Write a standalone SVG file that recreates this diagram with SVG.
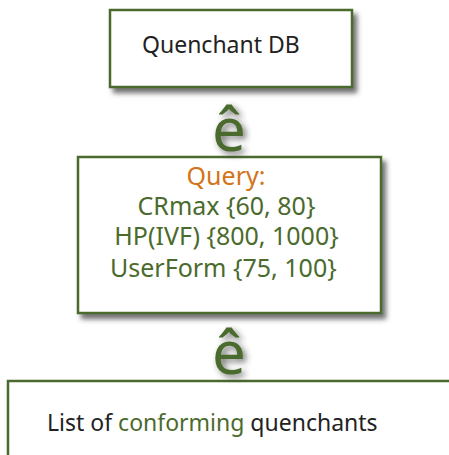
<svg xmlns="http://www.w3.org/2000/svg" width="449" height="455" viewBox="0 0 449 455">
<defs>
<filter id="sh" x="-10%" y="-10%" width="130%" height="140%">
<feDropShadow dx="4" dy="5" stdDeviation="2.5" flood-color="#444" flood-opacity="0.75"/>
</filter>
<filter id="tsh" x="-30%" y="-30%" width="160%" height="160%">
<feDropShadow dx="3" dy="3" stdDeviation="3" flood-color="#333" flood-opacity="0.7"/>
</filter>
</defs>
<style>
.box{fill:#fff;stroke:#4b6a2d;stroke-width:2.5}
.t{font-family:"Noto Sans",sans-serif;font-size:23px}
.q{font-family:"Noto Sans",sans-serif;font-size:25px}
.dark{fill:#222}
.green{fill:#4b6a2d}
.orange{fill:#d4741a}
.arrow{font-family:"Noto Sans",sans-serif;font-size:60px;fill:#4b6a2d}
</style>
<rect width="449" height="455" fill="#fff"/>
<g id="node-db">
<rect class="box" x="110" y="10" width="242" height="77" filter="url(#sh)"/>
<text class="t dark" x="142" y="53">Quenchant DB</text>
</g>
<g id="node-query">
<rect class="box" x="78" y="157" width="303" height="156" filter="url(#sh)"/>
<text class="q orange" x="226" y="185" text-anchor="middle">Query:</text>
<text class="q green" x="226.5" y="215" text-anchor="middle">CRmax {60, 80}</text>
<text class="q green" x="226.5" y="245" text-anchor="middle">HP(IVF) {800, 1000}</text>
<text class="q green" x="110" y="277">UserForm {75, 100}</text>
</g>
<g id="node-list">
<rect class="box" x="8" y="381" width="460" height="100" filter="url(#sh)"/>
<text class="t dark" x="47" y="431">List of <tspan class="green">conforming</tspan> quenchants</text>
</g>
<g id="connectors">
<text class="arrow" x="229" y="151" text-anchor="middle" filter="url(#tsh)">ê</text>
<text class="arrow" x="229" y="374" text-anchor="middle" filter="url(#tsh)">ê</text>
</g>
</svg>
